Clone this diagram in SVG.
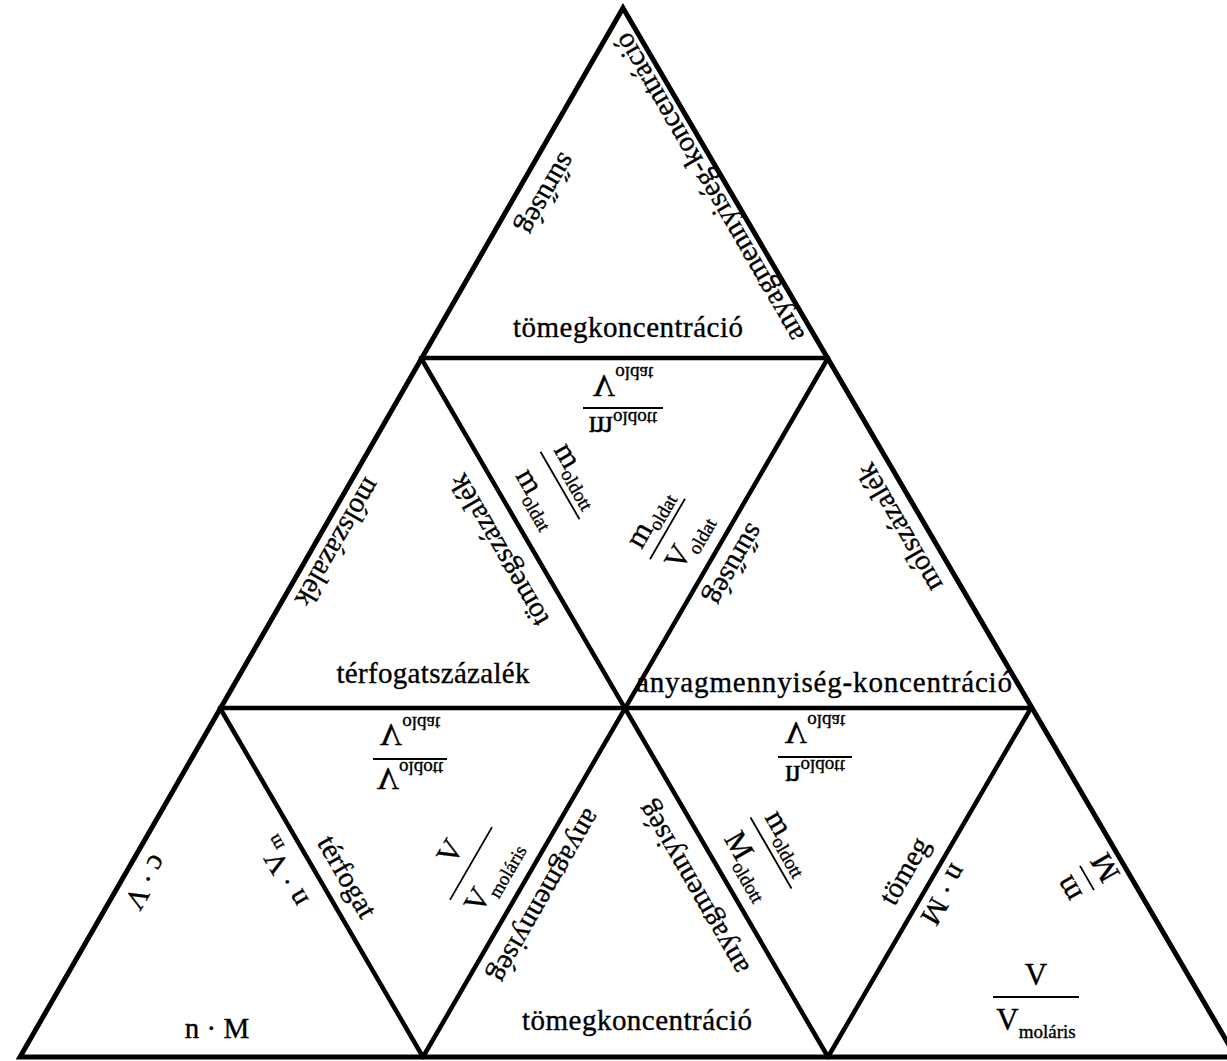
<svg xmlns="http://www.w3.org/2000/svg" width="1227" height="1061" viewBox="0 0 1227 1061">
<style>
.t{font-family:"Liberation Serif","DejaVu Serif",serif;font-size:29px;fill:#000;stroke:#000;stroke-width:0.35;text-anchor:middle}
.f{font-size:31px}
.s{font-size:19px}
.ln{stroke:#000;stroke-width:4.5;stroke-linecap:round;fill:none}
.out{stroke:#000;stroke-width:5;stroke-linejoin:miter;fill:none}
.fl{stroke:#000;stroke-width:1.8}
</style>
<rect x="0" y="0" width="1227" height="1061" fill="#fff"/>
<g id="connectors">
  <polygon class="out" points="623,8 1236,1057 20,1057"/>
  <line class="ln" x1="421" y1="358" x2="828" y2="358"/>
  <line class="ln" x1="220" y1="708" x2="1031" y2="708"/>
  <line class="ln" x1="421" y1="358" x2="828" y2="1057"/>
  <line class="ln" x1="828" y1="358" x2="423" y2="1057"/>
  <line class="ln" x1="220" y1="708" x2="423" y2="1057"/>
  <line class="ln" x1="1031" y1="708" x2="828" y2="1057"/>
</g>
<g id="t1">
  <text class="t" transform="translate(539,189.5) rotate(120)">sűrűség</text>
  <text class="t" transform="translate(717,183) rotate(-120)" textLength="352">anyagmennyiség-koncentráció</text>
  <text class="t" x="628" y="337" textLength="230">tömegkoncentráció</text>
</g>
<g id="t2">
  <text class="t" transform="translate(330,538) rotate(120)">mólszázalék</text>
  <text class="t" transform="translate(507,545.5) rotate(-120)">tömegszázalék</text>
  <text class="t" x="433" y="683" textLength="193">térfogatszázalék</text>
</g>
<g id="t3">
  <g transform="translate(623,408) scale(1,-1)">
    <line class="fl" x1="-40" y1="0" x2="40" y2="0"/>
    <text class="t f" y="-9">m<tspan class="s" dy="5">oldott</tspan></text>
    <text class="t f" y="33">V<tspan class="s" dy="8">oldat</tspan></text>
  </g>
  <g transform="translate(560,485.5) rotate(60)">
    <line class="fl" x1="-39" y1="0" x2="39" y2="0"/>
    <text class="t f" y="-12">m<tspan class="s" dy="6">oldott</tspan></text>
    <text class="t f" y="34">m<tspan class="s" dy="7">oldat</tspan></text>
  </g>
  <g transform="translate(667.5,529) rotate(-60)">
    <line class="fl" x1="-35" y1="0" x2="35" y2="0"/>
    <text class="t f" y="-12">m<tspan class="s" dy="6">oldat</tspan></text>
    <text class="t f" y="33">V<tspan class="s" dy="7">oldat</tspan></text>
  </g>
</g>
<g id="t4">
  <text class="t" transform="translate(727,560) rotate(120)">sűrűség</text>
  <text class="t" transform="translate(907.5,523) rotate(-120)">mólszázalék</text>
  <text class="t" x="824" y="692" textLength="376">anyagmennyiség-koncentráció</text>
</g>
<g id="t5">
  <text class="t" transform="translate(138,877.5) rotate(120)">c · V</text>
  <text class="t" transform="translate(290.5,868) rotate(-120)">n · V<tspan class="s" dy="6">m</tspan></text>
  <text class="t" x="217" y="1038">n · M</text>
</g>
<g id="t6">
  <g transform="translate(410,759) scale(1,-1)">
    <line class="fl" x1="-37" y1="0" x2="37" y2="0"/>
    <text class="t f" y="-9">V<tspan class="s" dy="6">oldott</tspan></text>
    <text class="t f" y="35">V<tspan class="s" dy="7">oldat</tspan></text>
  </g>
  <text class="t" transform="translate(339,881.5) rotate(60)">térfogat</text>
  <g transform="translate(471,863.5) rotate(-60)">
    <line class="fl" x1="-42" y1="0" x2="42" y2="0"/>
    <text class="t f" y="-14">V</text>
    <text class="t f" y="34">V<tspan class="s" dy="8">moláris</tspan></text>
  </g>
</g>
<g id="t7">
  <text class="t" transform="translate(537.5,891.5) rotate(120)">anyagmennyiség</text>
  <text class="t" transform="translate(701,883.5) rotate(-120)">anyagmennyiség</text>
  <text class="t" x="637" y="1030" textLength="230">tömegkoncentráció</text>
</g>
<g id="t8">
  <g transform="translate(815,757) scale(1,-1)">
    <line class="fl" x1="-37" y1="0" x2="37" y2="0"/>
    <text class="t f" y="-9">n<tspan class="s" dy="6">oldott</tspan></text>
    <text class="t f" y="35">V<tspan class="s" dy="7">oldat</tspan></text>
  </g>
  <g transform="translate(771,853) rotate(60)">
    <line class="fl" x1="-41" y1="0" x2="41" y2="0"/>
    <text class="t f" y="-12">m<tspan class="s" dy="6">oldott</tspan></text>
    <text class="t f" y="34">M<tspan class="s" dy="7">oldott</tspan></text>
  </g>
  <text class="t" transform="translate(912.5,875.5) rotate(-60)">tömeg</text>
</g>
<g id="t9">
  <text class="t" transform="translate(936,890) rotate(120)">n · M</text>
  <g transform="translate(1087,878) rotate(-120)">
    <line class="fl" x1="-14" y1="0" x2="14" y2="0"/>
    <text class="t f" y="-12">m</text>
    <text class="t f" y="31">M</text>
  </g>
  <g transform="translate(1036,997)">
    <line class="fl" x1="-43" y1="0" x2="43" y2="0"/>
    <text class="t f" y="-12">V</text>
    <text class="t f" y="33">V<tspan class="s" dy="8">moláris</tspan></text>
  </g>
</g>
</svg>
